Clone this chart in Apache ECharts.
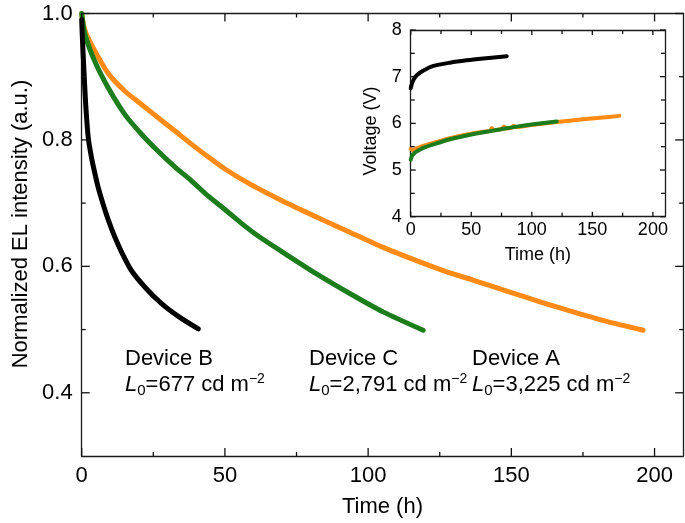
<!DOCTYPE html>
<html>
<head>
<meta charset="utf-8">
<script src="https://cdn.jsdelivr.net/npm/echarts@6/dist/echarts.min.js"></script>
<style>html,body{margin:0;padding:0;background:#fff}#c{width:685px;height:523px}</style>
</head>
<body>
<div id="c"></div>
<script>
// ---- Main panel: normalized EL intensity vs time ----
const timeA = [0, 1, 3.5, 9.3, 15.1, 20.9, 26.7, 32.6, 38.4, 44.2, 50, 58.8, 70.3, 82, 93.6, 105.2, 116.9, 127, 136.8, 148.4, 160, 171.6, 183.2, 196];
const intensityA = [1.0, 0.975, 0.950, 0.905, 0.877, 0.856, 0.835, 0.814, 0.793, 0.773, 0.754, 0.730, 0.703, 0.678, 0.654, 0.630, 0.609, 0.592, 0.578, 0.561, 0.544, 0.528, 0.513, 0.499];
const timeB = [0, 0.2, 0.8, 1.4, 2.3, 3.3, 4.4, 5.8, 7.5, 9.4, 11.6, 14.3, 17.4, 22.5, 27.9, 34, 40.7];
const intensityB = [0.99, 0.965, 0.908, 0.856, 0.803, 0.775, 0.751, 0.724, 0.698, 0.672, 0.646, 0.619, 0.593, 0.565, 0.541, 0.520, 0.501];
const timeC = [0, 1.2, 4.6, 9.3, 15.1, 20.9, 26.7, 32.6, 38.4, 44.2, 50, 55.8, 61.6, 70.3, 82, 93.6, 105.2, 119.2];
const intensityC = [1.0, 0.966, 0.924, 0.882, 0.840, 0.809, 0.782, 0.757, 0.735, 0.711, 0.690, 0.668, 0.648, 0.622, 0.588, 0.557, 0.528, 0.499];

// ---- Inset: voltage vs time ----
const vTimeA = [0, 2, 5, 18.7, 32.5, 46.2, 60, 65.5, 67, 68.5, 73.8, 75.5, 77, 78.5, 83.5, 85, 86.5, 101.3, 128.8, 156.3, 172.3];
const voltageA = [5.45, 5.42, 5.47, 5.58, 5.68, 5.76, 5.82, 5.84, 5.90, 5.85, 5.87, 5.88, 5.93, 5.89, 5.91, 5.95, 5.92, 5.97, 6.05, 6.12, 6.16];
const vTimeB = [0, 1, 2.2, 5, 10.5, 18.7, 32.5, 46.2, 60, 79.3];
const voltageB = [6.75, 6.85, 6.93, 7.03, 7.13, 7.23, 7.30, 7.35, 7.39, 7.44];
const vTimeC = [0, 1, 2.5, 5, 10, 18.7, 32.5, 46.2, 60, 73.8, 87.5, 101.3, 120.6];
const voltageC = [5.22, 5.30, 5.35, 5.40, 5.47, 5.55, 5.66, 5.74, 5.81, 5.87, 5.93, 5.98, 6.04];

// ---- Axis ranges and tick values ----
const mainRangeX = [0, 210], mainRangeY = [0.3, 1.0];
const insetRangeX = [0, 210], insetRangeY = [4, 8];
const mainXMajor = [0, 50, 100, 150, 200];
const mainXMinor = [25, 75, 125, 175];
const mainYMajor = [0.4, 0.6, 0.8, 1.0];
const mainYMinor = [0.5, 0.7, 0.9];
const insetXMajor = [0, 50, 100, 150, 200];
const insetXMinor = [25, 75, 125, 175];
const insetYMajor = [4, 5, 6, 7, 8];
const insetYMinor = [4.5, 5.5, 6.5, 7.5];

// ---- Annotations ----
const deviceNames = ['Device B', 'Device C', 'Device A'];
const deviceL0 = ['677', '2,791', '3,225'];

const colA = '#ff8a14', colB = '#000000', colC = '#1b7d1b';
const FONT = '"Liberation Sans", Arial, Helvetica, sans-serif';
const AX = '#1a1a1a';
const W = 685, H = 523;
const gridMain = { left: 81.7, right: 1.8, top: 13.5, bottom: 65.5 };
const gridInset = { left: 410.7, right: 20, top: 30, bottom: 306.3 };

function pairs(t, v) { return t.map((x, i) => [x, v[i]]); }

function axis(o) {
  const a = {
    type: 'value', gridIndex: o.grid, position: o.pos, min: o.range[0], max: o.range[1],
    axisLine: { show: true, onZero: false, lineStyle: { color: AX, width: 1.3 } },
    splitLine: { show: false },
    axisTick: { show: false },
    axisLabel: { show: false }
  };
  if (o.labels) {
    a.axisLabel = { show: true, customValues: o.labels, color: '#000', fontFamily: FONT, fontSize: o.font, margin: o.margin, formatter: o.fmt };
  }
  if (o.name) {
    a.name = o.name; a.nameLocation = 'middle'; a.nameGap = o.nameGap;
    a.nameTextStyle = { color: '#000', fontFamily: FONT, fontSize: o.font };
  }
  return a;
}

const xAxes = [
  axis({ grid: 0, pos: 'bottom', range: mainRangeX, labels: mainXMajor, font: 22, margin: 9, fmt: v => String(v), name: 'Time (h)', nameGap: 40 }),
  axis({ grid: 0, pos: 'top', range: mainRangeX }),
  axis({ grid: 1, pos: 'bottom', range: insetRangeX, labels: insetXMajor, font: 18, margin: 4, fmt: v => String(v), name: 'Time (h)', nameGap: 29 }),
  axis({ grid: 1, pos: 'top', range: insetRangeX })
];
const yAxes = [
  axis({ grid: 0, pos: 'left', range: mainRangeY, labels: mainYMajor, font: 22, margin: 9, fmt: v => v.toFixed(1) }),
  axis({ grid: 0, pos: 'right', range: mainRangeY }),
  axis({ grid: 1, pos: 'left', range: insetRangeY, labels: insetYMajor, font: 18, margin: 9, fmt: v => String(v) }),
  axis({ grid: 1, pos: 'right', range: insetRangeY })
];

function line(data, color, xi, yi, w, z) {
  return { type: 'line', data, xAxisIndex: xi, yAxisIndex: yi, showSymbol: false, symbol: 'none',
    smooth: 0.25, lineStyle: { color, width: w, cap: 'round', join: 'round' }, z, silent: true, animation: false };
}

const series = [
  line(pairs(timeA, intensityA), colA, 0, 0, 5, 2),
  line(pairs(timeC, intensityC), colC, 0, 0, 5, 3),
  line(pairs(timeB, intensityB), colB, 0, 0, 5, 4),
  line(pairs(vTimeA, voltageA), colA, 2, 2, 4, 5),
  line(pairs(vTimeC, voltageC), colC, 2, 2, 4, 6),
  line(pairs(vTimeB, voltageB), colB, 2, 2, 4, 7)
];

const annX = [125, 309, 472];
const textGraphics = deviceNames.map((n, i) => ({
  type: 'text', left: annX[i], top: 348, z: 20,
  style: {
    text: '{n|' + n + '}\n{i|L}{s|0}{n|=' + deviceL0[i] + ' cd m}{p|\u22122}',
    rich: {
      n: { fontFamily: FONT, fontSize: 22, lineHeight: 26, fill: '#000' },
      i: { fontFamily: FONT, fontSize: 22, fontStyle: 'italic', lineHeight: 26, fill: '#000' },
      s: { fontFamily: FONT, fontSize: 15, verticalAlign: 'bottom', fill: '#000' },
      p: { fontFamily: FONT, fontSize: 14, verticalAlign: 'top', fill: '#000' }
    }
  }
}));
textGraphics.push({ type: 'text', x: 21, y: 224, rotation: Math.PI / 2, z: 20,
  style: { text: 'Normalized EL intensity (a.u.)', fontFamily: FONT, fontSize: 22, fill: '#000', align: 'center', verticalAlign: 'middle' } });
textGraphics.push({ type: 'text', x: 371, y: 131, rotation: Math.PI / 2, z: 20,
  style: { text: 'Voltage (V)', fontFamily: FONT, fontSize: 18, fill: '#000', align: 'center', verticalAlign: 'middle' } });

const chart = echarts.init(document.getElementById('c'), null, { renderer: 'canvas' });
chart.setOption({
  animation: false,
  grid: [
    Object.assign({ containLabel: false }, gridMain),
    Object.assign({ containLabel: false }, gridInset)
  ],
  xAxis: xAxes,
  yAxis: yAxes,
  series
});

// ---- Inside ticks on all four sides ----
const tickSpecs = [
  { g: gridMain, xi: 0, yi: 0, rx: mainRangeX, ry: mainRangeY, xMaj: mainXMajor, xMin: mainXMinor, yMaj: mainYMajor, yMin: mainYMinor, majLen: 8, minLen: 4 },
  { g: gridInset, xi: 2, yi: 2, rx: insetRangeX, ry: insetRangeY, xMaj: insetXMajor, xMin: insetXMinor, yMaj: insetYMajor, yMin: insetYMinor, majLen: 5, minLen: 4 }
];
function toPixel(sp, x, y) {
  // through the chart's own axes; fall back to the grid's linear mapping
  let p = null;
  try { p = chart.convertToPixel({ xAxisIndex: sp.xi, yAxisIndex: sp.yi }, [x, y]); } catch (e) { p = null; }
  if (!p || !isFinite(p[0]) || !isFinite(p[1])) {
    const L = sp.g.left, R = W - sp.g.right, T = sp.g.top, B = H - sp.g.bottom;
    p = [L + (x - sp.rx[0]) / (sp.rx[1] - sp.rx[0]) * (R - L), B - (y - sp.ry[0]) / (sp.ry[1] - sp.ry[0]) * (B - T)];
  }
  return p;
}
function lineEl(x1, y1, x2, y2) {
  return { type: 'line', z: 30, shape: { x1: x1, y1: y1, x2: x2, y2: y2 }, style: { stroke: '#111', lineWidth: 1.3 } };
}
const tickEls = [];
tickSpecs.forEach(sp => {
  const lb = toPixel(sp, sp.rx[0], sp.ry[0]);
  const rt = toPixel(sp, sp.rx[1], sp.ry[1]);
  const L = lb[0], B = lb[1], R = rt[0], T = rt[1];
  const addX = (vals, len) => vals.forEach(v => {
    const px = toPixel(sp, v, sp.ry[0])[0];
    tickEls.push(lineEl(px, B, px, B - len));
    tickEls.push(lineEl(px, T, px, T + len));
  });
  const addY = (vals, len) => vals.forEach(v => {
    const py = toPixel(sp, sp.rx[0], v)[1];
    tickEls.push(lineEl(L, py, L + len, py));
    tickEls.push(lineEl(R, py, R - len, py));
  });
  addX(sp.xMaj, sp.majLen); addX(sp.xMin, sp.minLen);
  addY(sp.yMaj, sp.majLen); addY(sp.yMin, sp.minLen);
});
chart.setOption({ graphic: { elements: textGraphics.concat(tickEls) } });
</script>
</body>
</html>
